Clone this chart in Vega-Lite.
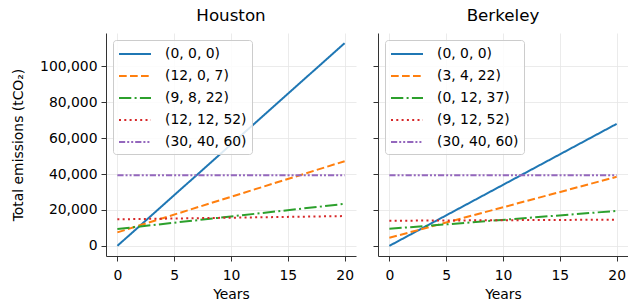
{
  "$schema": "https://vega.github.io/schema/vega-lite/v6.json",
  "background": "white",
  "padding": {"left": 11, "top": 8, "right": 0, "bottom": 0},
  "config": {
    "font": "DejaVu Sans",
    "view": {"stroke": null},
    "concat": {"spacing": 16},
    "axis": {
      "labelFont": "DejaVu Sans", "labelFontSize": 13.9, "labelColor": "#000",
      "titleFont": "DejaVu Sans", "titleFontSize": 13.9, "titleFontWeight": "normal", "titleColor": "#000",
      "domainColor": "#333", "domainWidth": 1, "tickColor": "#333", "tickWidth": 1, "tickSize": 5,
      "labelPadding": 4, "gridColor": "#e6e6e6", "gridWidth": 0.8, "labelFlush": false, "labelOverlap": false
    },
    "axisX": {"labelPadding": 7, "titlePadding": 6},
    "title": {"font": "DejaVu Sans", "fontSize": 16.7, "fontWeight": "normal", "color": "#000", "offset": 8},
    "legend": {
      "orient": "top-left", "offset": 7, "fillColor": "rgba(255,255,255,0.85)", "strokeColor": "#cccccc",
      "cornerRadius": 3, "padding": 5, "labelFont": "DejaVu Sans", "labelFontSize": 13.9, "labelColor": "#000",
      "symbolType": "M-1,0H3", "symbolSize": 256, "symbolStrokeWidth": 2, "labelOffset": 29, "rowPadding": 6,
      "title": null
    }
  },
  "data": {"values": [
    {"city": "Houston", "label": "(0, 0, 0)", "year": 0, "value": 0},
    {"city": "Houston", "label": "(0, 0, 0)", "year": 20, "value": 113000},
    {"city": "Houston", "label": "(12, 0, 7)", "year": 0, "value": 7500},
    {"city": "Houston", "label": "(12, 0, 7)", "year": 20, "value": 47200},
    {"city": "Houston", "label": "(9, 8, 22)", "year": 0, "value": 9400},
    {"city": "Houston", "label": "(9, 8, 22)", "year": 20, "value": 23400},
    {"city": "Houston", "label": "(12, 12, 52)", "year": 0, "value": 14800},
    {"city": "Houston", "label": "(12, 12, 52)", "year": 20, "value": 16600},
    {"city": "Houston", "label": "(30, 40, 60)", "year": 0, "value": 39300},
    {"city": "Houston", "label": "(30, 40, 60)", "year": 20, "value": 39300},
    {"city": "Berkeley", "label": "(0, 0, 0)", "year": 0, "value": 0},
    {"city": "Berkeley", "label": "(0, 0, 0)", "year": 20, "value": 68000},
    {"city": "Berkeley", "label": "(3, 4, 22)", "year": 0, "value": 4500},
    {"city": "Berkeley", "label": "(3, 4, 22)", "year": 20, "value": 38500},
    {"city": "Berkeley", "label": "(0, 12, 37)", "year": 0, "value": 9500},
    {"city": "Berkeley", "label": "(0, 12, 37)", "year": 20, "value": 19500},
    {"city": "Berkeley", "label": "(9, 12, 52)", "year": 0, "value": 14000},
    {"city": "Berkeley", "label": "(9, 12, 52)", "year": 20, "value": 14600},
    {"city": "Berkeley", "label": "(30, 40, 60)", "year": 0, "value": 39300},
    {"city": "Berkeley", "label": "(30, 40, 60)", "year": 20, "value": 39300}
  ]},
  "resolve": {"scale": {"color": "independent", "strokeDash": "independent"}},
  "hconcat": [
    {
      "title": "Houston",
      "width": 250, "height": 223,
      "transform": [{"filter": "datum.city === 'Houston'"}],
      "mark": {"type": "line", "strokeWidth": 2},
      "encoding": {
        "x": {"field": "year", "type": "quantitative", "scale": {"domain": [-1, 21], "nice": false, "zero": false},
              "axis": {"title": "Years", "values": [0, 5, 10, 15, 20]}},
        "y": {"field": "value", "type": "quantitative", "scale": {"domain": [-5650, 118650], "nice": false, "zero": false},
              "axis": {"title": "Total emissions (tCO₂)", "values": [0, 20000, 40000, 60000, 80000, 100000], "format": ",d", "titlePadding": 14}},
        "color": {"field": "label", "type": "nominal",
                  "scale": {"domain": ["(0, 0, 0)", "(12, 0, 7)", "(9, 8, 22)", "(12, 12, 52)", "(30, 40, 60)"],
                            "range": ["#1f77b4", "#ff7f0e", "#2ca02c", "#d62728", "#9467bd"]}},
        "strokeDash": {"field": "label", "type": "nominal",
                  "scale": {"domain": ["(0, 0, 0)", "(12, 0, 7)", "(9, 8, 22)", "(12, 12, 52)", "(30, 40, 60)"],
                            "range": [[1, 0], [7.7, 3.3], [12.3, 3.3, 2, 3.3], [2, 3.3], [6.2, 2, 2, 2, 2, 2]]}}
      }
    },
    {
      "title": "Berkeley",
      "width": 250, "height": 223,
      "transform": [{"filter": "datum.city === 'Berkeley'"}],
      "mark": {"type": "line", "strokeWidth": 2},
      "encoding": {
        "x": {"field": "year", "type": "quantitative", "scale": {"domain": [-1, 21], "nice": false, "zero": false},
              "axis": {"title": "Years", "values": [0, 5, 10, 15, 20]}},
        "y": {"field": "value", "type": "quantitative", "scale": {"domain": [-5650, 118650], "nice": false, "zero": false},
              "axis": {"title": null, "labels": false, "values": [0, 20000, 40000, 60000, 80000, 100000]}},
        "color": {"field": "label", "type": "nominal",
                  "scale": {"domain": ["(0, 0, 0)", "(3, 4, 22)", "(0, 12, 37)", "(9, 12, 52)", "(30, 40, 60)"],
                            "range": ["#1f77b4", "#ff7f0e", "#2ca02c", "#d62728", "#9467bd"]}},
        "strokeDash": {"field": "label", "type": "nominal",
                  "scale": {"domain": ["(0, 0, 0)", "(3, 4, 22)", "(0, 12, 37)", "(9, 12, 52)", "(30, 40, 60)"],
                            "range": [[1, 0], [7.7, 3.3], [12.3, 3.3, 2, 3.3], [2, 3.3], [6.2, 2, 2, 2, 2, 2]]}}
      }
    }
  ]
}
